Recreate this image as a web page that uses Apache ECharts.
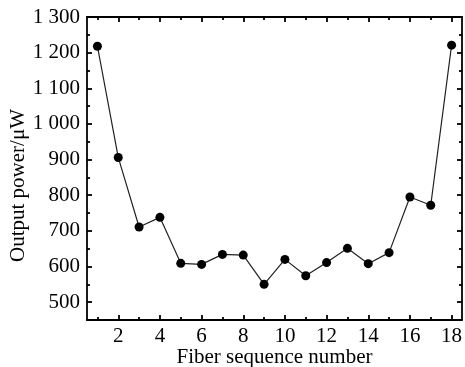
<!DOCTYPE html>
<html>
<head>
<meta charset="utf-8">
<script src="https://cdn.jsdelivr.net/npm/echarts@6/dist/echarts.min.js"></script>
<style>html,body{margin:0;padding:0;background:#fff}#c{width:465px;height:367px}</style>
</head>
<body>
<div id="c"></div>
<script>
const fiberNumbers = [1,2,3,4,5,6,7,8,9,10,11,12,13,14,15,16,17,18];
const outputPower = [1218,906,711,738,609,606,634,632,550,620,574,611,651,608,639,795,772,1221];
const xMajorTicks = [2,4,6,8,10,12,14,16,18];
const xMinorTicks = [1,3,5,7,9,11,13,15,17];
const yMajorTicks = [500,600,700,800,900,1000,1100,1200,1300];
const yMinorTicks = [550,650,750,850,950,1050,1150,1250];

const FONT = 'Liberation Serif';
const FS = 21;
const X_MIN = 0.5, X_MAX = 18.5, Y_MIN = 450, Y_MAX = 1300;
const lineStyle = {color:'#000', width:1.8};

function fmtY(v){
  if (v >= 1000) { const r = v % 1000; return Math.floor(v/1000) + ' ' + String(r).padStart(3,'0'); }
  return String(v);
}
function xAx(pos, ticks, len, showLine, showLabel, name){
  return {
    type:'value', position:pos, min:X_MIN, max:X_MAX,
    name: name || '', nameLocation:'middle', nameGap:27, nameMoveOverlap:false,
    nameTextStyle:{fontFamily:FONT, fontSize:FS, color:'#000'},
    axisLine:{show:showLine, onZero:false, lineStyle},
    axisTick:{show:true, inside:true, length:len, customValues:ticks, lineStyle},
    axisLabel:{show:showLabel, customValues:ticks, fontFamily:FONT, fontSize:FS, color:'#000', margin:6},
    splitLine:{show:false}
  };
}
function yAx(pos, ticks, len, showLine, showLabel, name){
  return {
    type:'value', position:pos, min:Y_MIN, max:Y_MAX,
    name: name || '', nameLocation:'middle', nameGap:58, nameMoveOverlap:false,
    nameTextStyle:{fontFamily:FONT, fontSize:FS, color:'#000', padding:[0,34,0,0]},
    axisLine:{show:showLine, onZero:false, lineStyle},
    axisTick:{show:true, inside:true, length:len, customValues:ticks, lineStyle},
    axisLabel:{show:showLabel, customValues:ticks, formatter:fmtY, fontFamily:FONT, fontSize:FS, color:'#000', margin:7},
    splitLine:{show:false}
  };
}

const chart = echarts.init(document.getElementById('c'));
chart.setOption({
  animation:false,
  grid:{left:87, right:3, top:17, bottom:47, containLabel:false, outerBoundsMode:'none'},
  xAxis:[
    xAx('bottom', xMajorTicks, 5, true, true, 'Fiber sequence number'),
    xAx('bottom', xMinorTicks, 3, false, false),
    xAx('top', xMajorTicks, 5, true, false),
    xAx('top', xMinorTicks, 3, false, false)
  ],
  yAxis:[
    yAx('left', yMajorTicks, 5, true, true, 'Output power/\u03bcW'),
    yAx('left', yMinorTicks, 3, false, false),
    yAx('right', yMajorTicks, 5, true, false),
    yAx('right', yMinorTicks, 3, false, false)
  ],
  series:[{
    type:'line', xAxisIndex:0, yAxisIndex:0,
    data: fiberNumbers.map((x,i)=>[x, outputPower[i]]),
    symbol:'circle', symbolSize:9,
    itemStyle:{color:'#000'},
    lineStyle:{color:'#222', width:1.2}
  }]
});
</script>
</body>
</html>
